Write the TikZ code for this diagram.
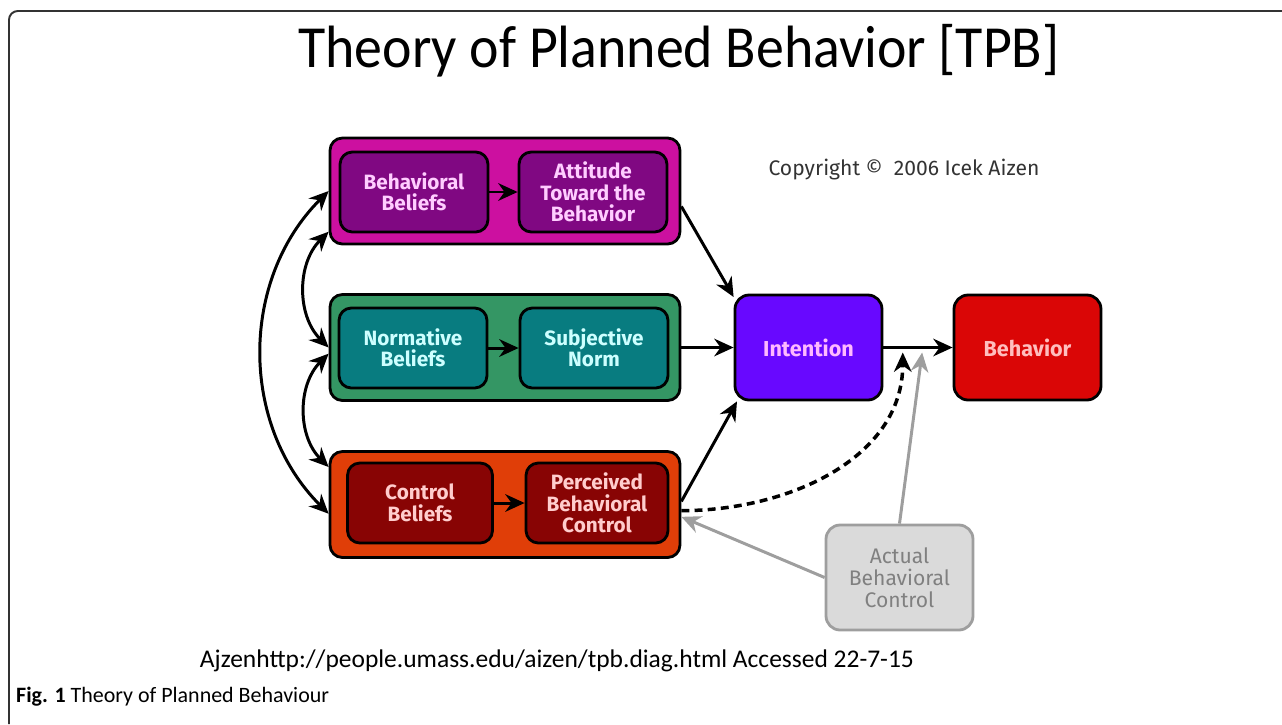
\documentclass[tikz,border=0pt]{standalone}
\usepackage{fontspec}
\setmainfont{Carlito}
\newfontfamily\boxfont{Fira Sans}
\usetikzlibrary{arrows.meta,calc}

\definecolor{attouter}{RGB}{204,16,160}
\definecolor{attinner}{RGB}{128,8,130}
\definecolor{atttext}{RGB}{255,205,255}
\definecolor{normouter}{RGB}{52,150,100}
\definecolor{norminner}{RGB}{8,124,128}
\definecolor{normtext}{RGB}{205,255,255}
\definecolor{ctrlouter}{RGB}{224,62,8}
\definecolor{ctrlinner}{RGB}{136,4,4}
\definecolor{ctrltext}{RGB}{255,205,205}
\definecolor{intentfill}{RGB}{104,8,255}
\definecolor{intenttext}{RGB}{255,185,255}
\definecolor{behavfill}{RGB}{218,6,6}
\definecolor{behavtext}{RGB}{255,190,190}
\definecolor{actualfill}{RGB}{218,218,218}
\definecolor{actualgray}{RGB}{158,158,158}

\begin{document}
\begin{tikzpicture}[x=0.02cm, y=-0.02cm,
    >={Stealth[length=11pt,width=10pt]},
    outerbox/.style={draw=black, line width=1.6pt, rounded corners=7pt,
        minimum width=7cm, minimum height=2.12cm},
    innerbox/.style={draw=black, line width=1.6pt, rounded corners=7pt,
        minimum width=2.96cm, minimum height=1.6cm, inner sep=1pt, align=center,
        font=\boxfont\bfseries\fontsize{11.8}{12.2}\selectfont},
    bigbox/.style={draw=black, line width=1.6pt, rounded corners=8pt,
        minimum width=2.94cm, minimum height=2.1cm, align=center,
        font=\boxfont\bfseries\fontsize{12.3}{12.5}\selectfont},
    link/.style={->, line width=1.7pt},
    ]
    \useasboundingbox (0,0) rectangle (1282,724);

    % Frame
    \draw[line width=1.1pt, black!80, rounded corners=5pt] (1282,11) -- (9,11) -- (9,724);

    % Title
    \node[xscale=0.935] (title) at (679,51) {\fontsize{34}{40}\selectfont Theory of Planned Behavior [TPB]};
    \node[font=\boxfont\fontsize{12}{14}\selectfont, black!80] (copy) at (904,170) {Copyright \textcopyright\ \ 2006 Icek Aizen};

    % Attitude row
    \node[outerbox, fill=attouter] (behav) at (505,191) {};
    \node[innerbox, fill=attinner, text=atttext] (bb) at (414,192) {Behavioral\\Beliefs};
    \node[innerbox, fill=attinner, text=atttext] (att) at (593,192) {Attitude\\Toward the\\Behavior};

    % Norm row
    \node[outerbox, fill=normouter] (norm) at (505,347.5) {};
    \node[innerbox, fill=norminner, text=normtext] (nb) at (413,348) {Normative\\Beliefs};
    \node[innerbox, fill=norminner, text=normtext] (sn) at (594,348) {Subjective\\Norm};

    % Control row
    \node[outerbox, fill=ctrlouter] (ctrl) at (505,504.5) {};
    \node[innerbox, fill=ctrlinner, text=ctrltext, minimum width=2.9cm] (cb) at (420,503) {Control\\Beliefs};
    \node[innerbox, fill=ctrlinner, text=ctrltext, minimum width=2.84cm] (pbc) at (597,503) {Perceived\\Behavioral\\Control};

    % Intention, behavior, actual control
    \node[bigbox, fill=intentfill, text=intenttext] (intent) at (808.5,347.5) {Intention};
    \node[bigbox, fill=behavfill, text=behavtext] (behavior) at (1027.5,347.5) {Behavior};
    \node[bigbox, fill=actualfill, draw=actualgray, text=black!50, font=\boxfont\fontsize{12}{12.5}\selectfont]
        (actual) at (899.5,577.5) {Actual\\Behavioral\\Control};

    \coordinate (j1) at ($(intent.east)!0.28!(behavior.west)+(0,5)$);
    \coordinate (j2) at ($(intent.east)!0.56!(behavior.west)+(0,5)$);

    % Inner arrows
    \draw[link] (bb) -- (att);
    \draw[link] (nb) -- (sn);
    \draw[link] (cb) -- (pbc);

    % Into intention and behavior
    \draw[link] (behav.-5) -- (intent.146);
    \draw[link] (norm.east) -- (intent.west);
    \draw[link] (ctrl.1) -- (intent.-143);
    \draw[link] (intent.east) -- (behavior.west);

    % Correlations on the left
    \draw[<->, line width=1.7pt] (behav.west) to[out=225, in=135] (ctrl.183);
    \draw[<->, line width=1.7pt] (behav.193) to[out=225, in=135] (norm.west);
    \draw[<->, line width=1.7pt] (norm.182) to[out=225, in=135] (ctrl.168);

    % Perceived and actual control
    \draw[link, line width=2pt, dash pattern=on 4.5pt off 3pt] (ctrl.-2) to[out=0, in=-90] (j1);
    \draw[link, actualgray] (actual.north) -- (j2);
    \draw[link, actualgray] (actual.west) -- (ctrl.-4.5);

    % Source and caption
    \node[font=\fontsize{14.5}{17}\selectfont] (src) at (557,661) {Ajzenhttp://people.umass.edu/aizen/tpb.diag.html Accessed 22-7-15};
    \node[anchor=west, font=\fontsize{12.5}{15}\selectfont] (cap) at (10,697) {\textbf{Fig. 1} Theory of Planned Behaviour};
\end{tikzpicture}
\end{document}
